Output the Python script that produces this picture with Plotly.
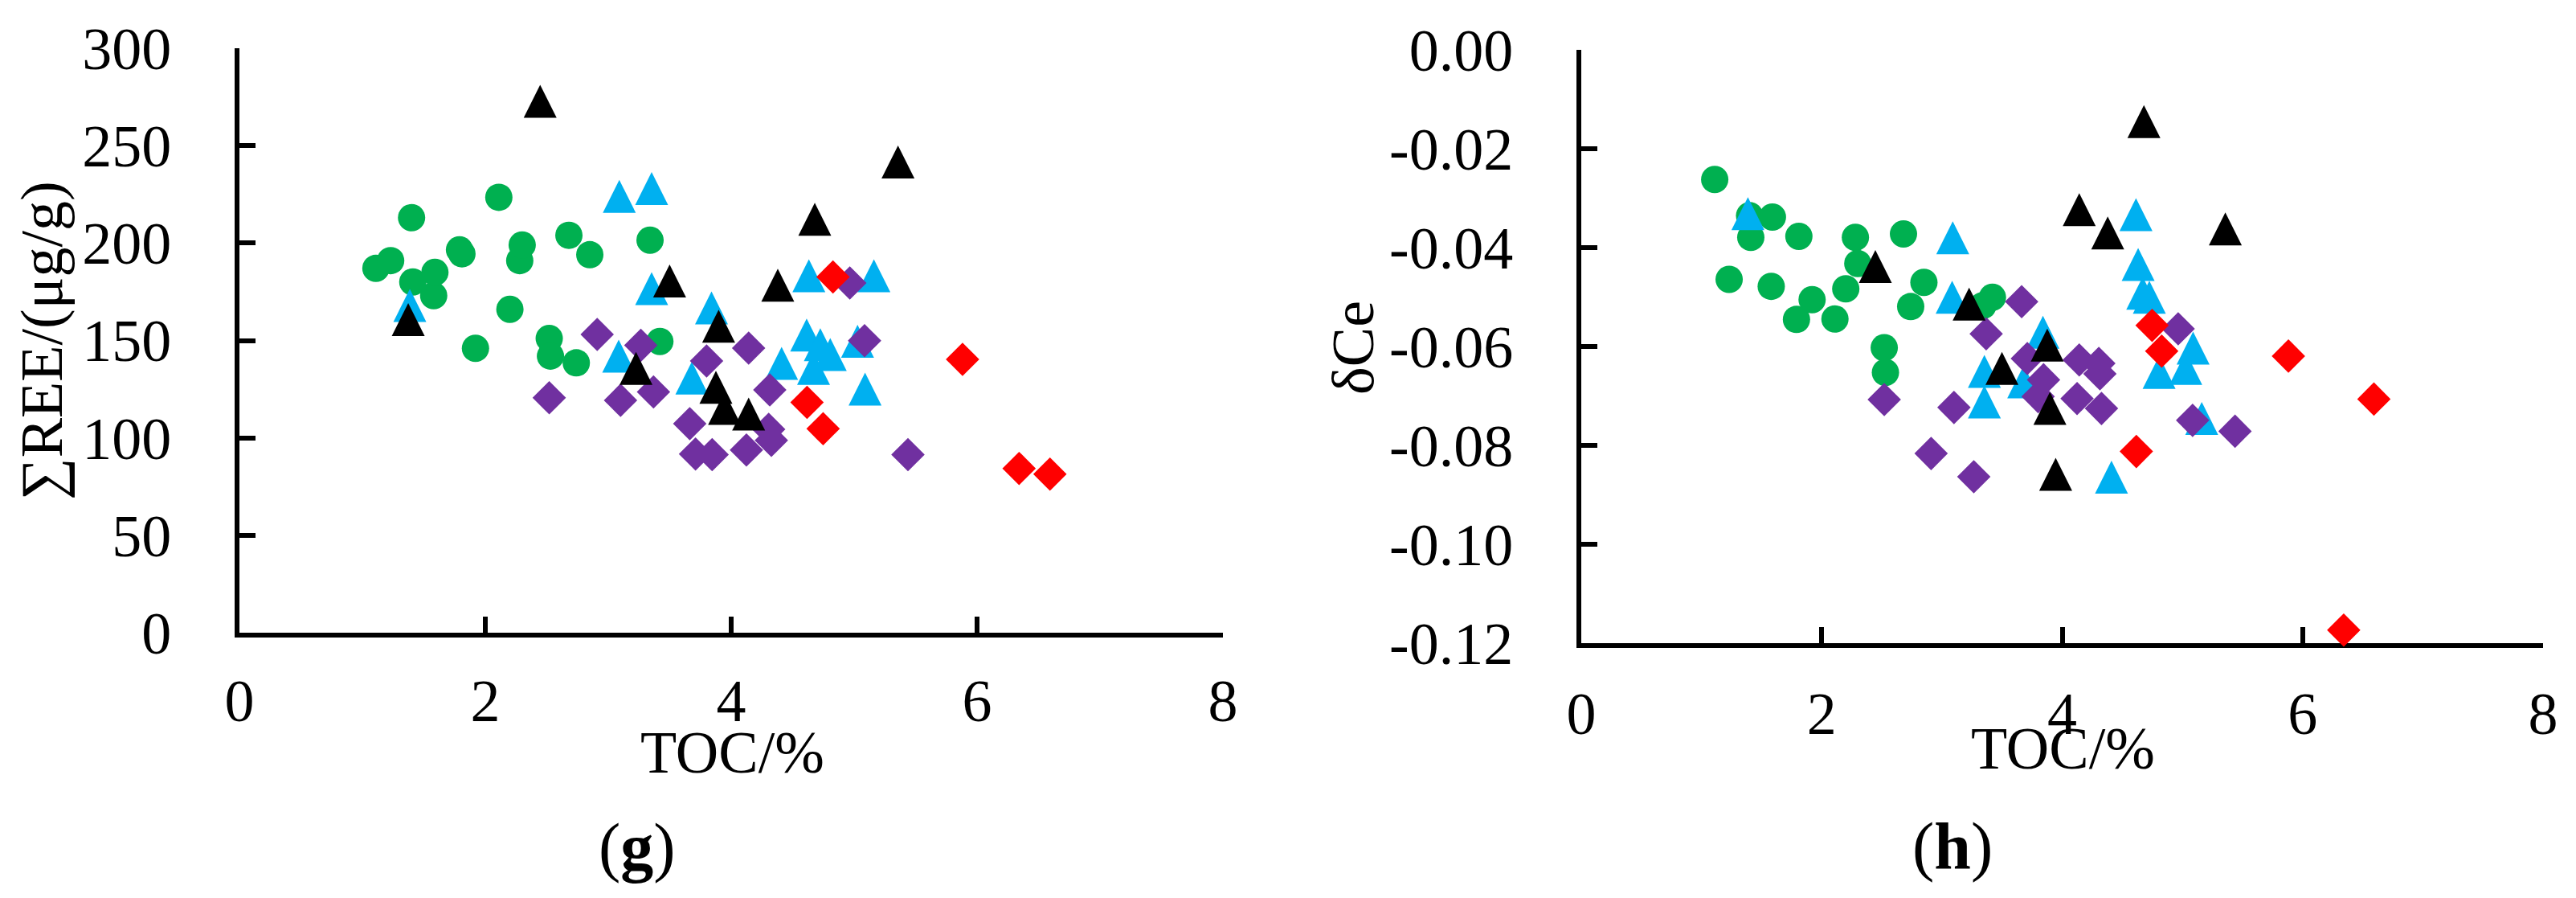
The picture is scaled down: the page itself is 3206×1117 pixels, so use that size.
import plotly.graph_objects as go

W, H = 3206, 1117

# ---------------- data ----------------
green_toc = [1.11, 1.23, 1.40, 1.41, 1.58, 1.59, 1.79, 1.81, 1.92, 2.11,
             2.20, 2.28, 2.30, 2.52, 2.53, 2.68, 2.74, 2.85, 3.34, 3.42]
green_ree = [187, 191, 213, 180, 173, 185, 196.5, 194.5, 146, 223.5,
             166, 191, 199, 151, 142, 204, 138.5, 194, 201.5, 149.5]
green_dce = [-0.0262, -0.0464, -0.0335, -0.0379, -0.0478, -0.0338, -0.0545, -0.0377, -0.0505, -0.0544,
             -0.0483, -0.0379, -0.0432, -0.0602, -0.0652, -0.0372, -0.0519, -0.0470, -0.0517, -0.0500]

cyan_toc = [1.386, 3.09, 3.085, 3.353, 3.353, 3.84, 3.68, 4.614, 4.632, 4.67,
            4.725, 4.806, 4.41, 5.028, 5.089, 5.161]
cyan_ree = [168, 224, 142, 228, 176.6, 166.7, 130.7, 152.8, 183.2, 135.7,
            147.8, 142.8, 138.2, 149.6, 125.0, 183.2]
cyan_dce = [-0.0331, -0.0380, -0.0500, -0.0650, -0.0712, -0.0571, -0.0671, -0.0333, -0.0434, -0.0492,
            -0.0500, -0.0652, -0.0864, -0.0644, -0.0603, -0.0745]

purple_toc = [2.52, 2.91, 3.10, 3.265, 3.368, 3.663, 3.71, 3.80, 3.845, 4.124,
              4.142, 4.305, 4.314, 4.327, 4.965, 5.085, 5.438]
purple_ree = [120.6, 153.1, 119.3, 147.5, 123.6, 107.3, 91.7, 139.5, 91.4, 93.8,
              146.1, 104.4, 124.6, 98.7, 179.5, 149.9, 91.4]
purple_dce = [-0.0707, -0.0816, -0.0723, -0.0863, -0.0574, -0.0509, -0.0624, -0.0701, -0.0667, -0.0705,
              -0.0627, -0.0634, -0.0655, -0.0725, -0.0564, -0.0749, -0.0771]

black_toc = [1.373, 2.446, 3.226, 3.499, 3.876, 3.898, 3.946, 4.142, 4.379, 4.68, 5.357]
black_ree = [160.7, 272.8, 135.7, 180.5, 126.0, 157.3, 115.1, 112.2, 178.4, 212.2, 241.6]
black_dce = [None, -0.0438, -0.0514, -0.0644, -0.0597, -0.0725, -0.0858, -0.0323, -0.0370, -0.0145, -0.0362]

red_toc = [4.617, 4.748, 4.828, 5.882, 6.342, 6.593]
red_ree = [118.2, 104.7, 182.6, 140.3, 84.3, 81.4]
red_dce = [-0.0812, -0.0557, -0.0609, -0.0619, -0.1173, -0.0706]

x_ticks = [0, 2, 4, 6, 8]
x_ticktext = ["0", "2", "4", "6", "8"]
ree_ticks = [0, 50, 100, 150, 200, 250, 300]
ree_ticktext = ["0", "50", "100", "150", "200", "250", "300"]
dce_ticks = [0, -0.02, -0.04, -0.06, -0.08, -0.10, -0.12]
dce_ticktext = ["0.00", "-0.02", "-0.04", "-0.06", "-0.08", "-0.10", "-0.12"]

x_title = "TOC/%"
ree_title = "∑REE/(μg/g)"
dce_title = "δCe"
panel_labels = ["(<b>g</b>)", "(<b>h</b>)"]

GREEN, CYAN, PURPLE, BLACK, RED = "#00B050", "#00B0F0", "#7030A0", "#000000", "#FF0000"
FONT = "Liberation Serif, Times New Roman, serif"

# ---------------- figure ----------------
fig = go.Figure()

def circle(size):
    return dict(symbol="circle", size=size, line=dict(width=0))

def diamond(size):
    return dict(symbol="diamond", size=size, line=dict(width=0))

def triangle(size):
    # isosceles triangle (width == height), centred on the point
    return dict(symbol="arrow-down", size=size, angle=180, standoff=size / 2, line=dict(width=0))

series = [
    (green_toc, green_ree, green_dce, GREEN, circle(34)),
    (cyan_toc, cyan_ree, cyan_dce, CYAN, triangle(41)),
    (purple_toc, purple_ree, purple_dce, PURPLE, diamond(32)),
    (black_toc, black_ree, black_dce, BLACK, triangle(41)),
    (red_toc, red_ree, red_dce, RED, diamond(32)),
]

for toc, ree, dce, col, mk in series:
    m = dict(mk, color=col)
    fig.add_trace(go.Scatter(x=toc, y=ree, mode="markers", marker=m,
                             xaxis="x", yaxis="y", cliponaxis=False, showlegend=False))
    fig.add_trace(go.Scatter(x=toc, y=dce, mode="markers", marker=m,
                             xaxis="x2", yaxis="y2", cliponaxis=False, showlegend=False))

def px_x(p):
    return p / W

def px_y(p):
    return 1 - p / H

axis_common = dict(showgrid=False, zeroline=False, showline=True, linecolor="black",
                   linewidth=6, ticks="inside", ticklen=20, tickwidth=6, tickcolor="black",
                   tickfont=dict(family=FONT, size=74, color="black"), layer="below traces",
                   fixedrange=True, automargin=False)

fig.update_layout(
    template="none",
    width=W, height=H,
    margin=dict(l=0, r=0, t=0, b=0, pad=0),
    paper_bgcolor="white", plot_bgcolor="white",
    xaxis=dict(axis_common, domain=[px_x(298), px_x(1522)], range=[0, 8],
               tickvals=x_ticks, ticktext=x_ticktext, anchor="y", ticklabelstandoff=15),
    yaxis=dict(axis_common, domain=[px_y(787), px_y(60)], range=[0, 300],
               tickvals=ree_ticks, ticktext=ree_ticktext, anchor="x", ticklabelstandoff=64),
    xaxis2=dict(axis_common, domain=[px_x(1968), px_x(3165)], range=[0, 8],
                tickvals=x_ticks, ticktext=x_ticktext, anchor="y2", ticklabelstandoff=18),
    yaxis2=dict(axis_common, domain=[px_y(800.3), px_y(62.1)], range=[-0.12, 0],
                tickvals=dce_ticks, ticktext=dce_ticktext, anchor="x2", ticklabelstandoff=64),
)

ann_font = dict(family=FONT, size=74, color="black")
annotations = [
    dict(text=x_title, x=px_x(912), y=px_y(936), font=ann_font),
    dict(text=x_title, x=px_x(2567), y=px_y(931), font=ann_font),
    dict(text=ree_title, x=px_x(52), y=px_y(424), font=ann_font, textangle=-90),
    dict(text=dce_title, x=px_x(1684), y=px_y(432), font=ann_font, textangle=-90),
    dict(text=panel_labels[0], x=px_x(793), y=px_y(1053), font=dict(ann_font, size=82)),
    dict(text=panel_labels[1], x=px_x(2430), y=px_y(1052), font=dict(ann_font, size=82)),
]
for a in annotations:
    a.update(xref="paper", yref="paper", xanchor="center", yanchor="middle", showarrow=False)
fig.update_layout(annotations=annotations)

fig.write_html(
    "out.html",
    config={"displayModeBar": False, "staticPlot": True},
    post_script="document.body.style.margin='0';document.body.style.overflow='hidden';",
)
